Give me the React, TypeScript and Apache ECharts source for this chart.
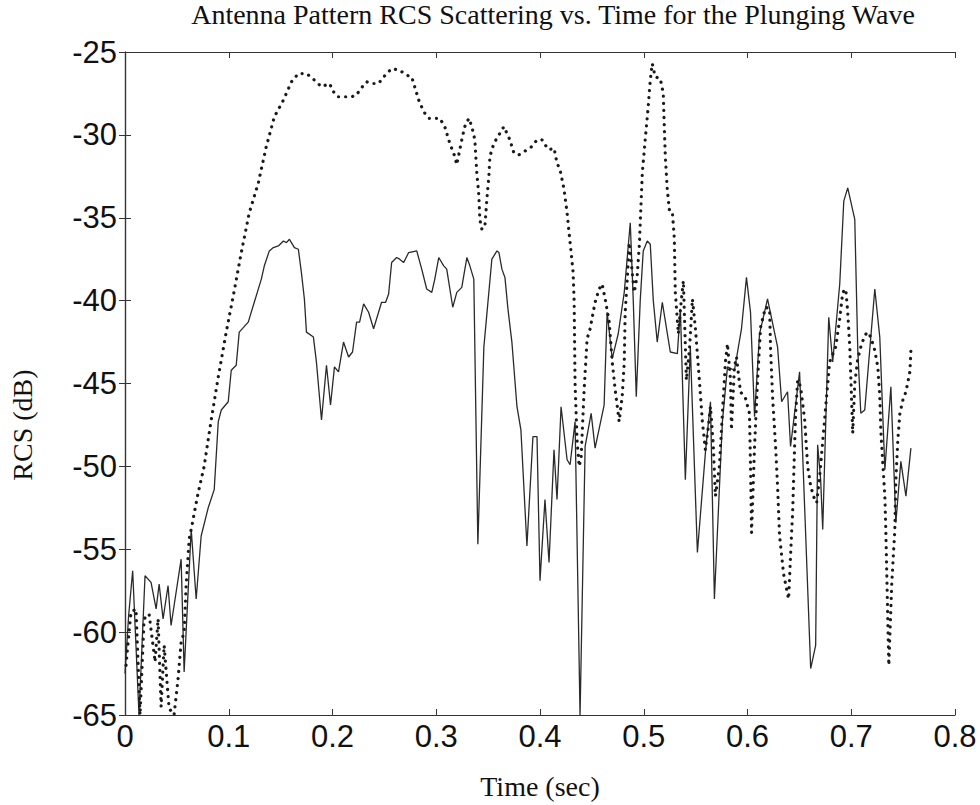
import React, { useEffect, useRef } from "react";
import * as echarts from "echarts";

const titleText = "Antenna Pattern RCS Scattering vs. Time for the Plunging Wave";
const xAxisName = "Time (sec)";
const yAxisName = "RCS (dB)";
const xTicks = [0, 0.1, 0.2, 0.3, 0.4, 0.5, 0.6, 0.7, 0.8];
const yTicks = [-65, -60, -55, -50, -45, -40, -35, -30, -25];

// Solid curve: [time (s), RCS (dB)]
const solidCurve: [number, number][] = [
  [0.0, -62.5], [0.0035, -59], [0.0074, -56.3], [0.0135, -65], [0.0193, -56.6], [0.0251, -57],
  [0.03, -58.6], [0.0329, -57.1], [0.0367, -59.2], [0.0415, -57.2], [0.0444, -59.6], [0.0541, -55.6],
  [0.057, -62.4], [0.0638, -53.8], [0.0686, -58], [0.0734, -54.2], [0.0802, -52.5], [0.086, -51.4],
  [0.0899, -47.3], [0.0928, -46.6], [0.0995, -46.1], [0.1024, -44.2], [0.1072, -43.9], [0.1101, -41.9],
  [0.1188, -41.3], [0.1246, -40.1], [0.1314, -38.7], [0.1343, -37.9], [0.1391, -37.0], [0.143, -36.8],
  [0.1478, -36.7], [0.1527, -36.4], [0.1556, -36.5], [0.1585, -36.3], [0.1633, -36.8], [0.1671, -36.9],
  [0.17, -38.3], [0.1729, -39.9], [0.1749, -41.9], [0.1816, -42.2], [0.1845, -43.7], [0.1894, -47.2],
  [0.1942, -43.9], [0.1981, -46.3], [0.2019, -44.0], [0.2058, -44.3], [0.2106, -42.5], [0.2155, -43.4],
  [0.2193, -43.1], [0.2232, -41.3], [0.2261, -41.3], [0.23, -40.2], [0.2348, -40.7], [0.2396, -41.7],
  [0.2444, -40.7], [0.2473, -40.1], [0.2512, -40.1], [0.2541, -39.6], [0.257, -37.7], [0.2618, -37.4],
  [0.2647, -37.5], [0.2686, -37.7], [0.2734, -37.1], [0.2812, -37.0], [0.286, -38.1], [0.2908, -39.3],
  [0.2957, -39.5], [0.2986, -38.7], [0.3024, -37.4], [0.3072, -37.9], [0.3101, -38.1], [0.3159, -40.4],
  [0.3198, -39.5], [0.3246, -39.2], [0.3295, -37.4], [0.3324, -37.9], [0.3362, -38.7], [0.3401, -54.7],
  [0.3459, -42.8], [0.3488, -40.8], [0.3536, -37.5], [0.3585, -37.0], [0.3604, -37.1], [0.3633, -38.1],
  [0.3662, -38.6], [0.3691, -40.5], [0.3729, -42.5], [0.3778, -46.4], [0.3816, -47.8], [0.3874, -54.8],
  [0.3932, -48.2], [0.3971, -48.2], [0.4, -56.9], [0.4048, -52.0], [0.4087, -55.8], [0.4135, -49.0],
  [0.4164, -52.0], [0.4203, -46.4], [0.4261, -49.6], [0.429, -49.9], [0.4338, -47.3], [0.4386, -65],
  [0.4435, -48.8], [0.4493, -46.8], [0.4531, -48.9], [0.4618, -46.3], [0.4647, -40.7], [0.4696, -43.5],
  [0.4754, -42], [0.4812, -39.5], [0.487, -35.3], [0.4899, -40], [0.4928, -45.8], [0.4966, -40],
  [0.4995, -37.0], [0.5034, -36.4], [0.5063, -36.6], [0.5092, -40], [0.513, -42.5], [0.5179, -40.1],
  [0.5256, -43.1], [0.5324, -43.2], [0.5353, -40.5], [0.5401, -50.8], [0.5449, -42.8], [0.5517, -55.2],
  [0.5594, -49.2], [0.5643, -46.1], [0.5681, -58], [0.5758, -47.3], [0.5807, -44], [0.5874, -44.2],
  [0.5942, -41.7], [0.599, -38.6], [0.6029, -40.7], [0.6068, -47], [0.6116, -42], [0.6193, -39.9],
  [0.629, -42.8], [0.6329, -46.1], [0.6386, -45.5], [0.6415, -48.8], [0.6502, -44.3], [0.6609, -62.2],
  [0.6657, -60.8], [0.6676, -48.7], [0.6705, -50.8], [0.6725, -53.8], [0.6783, -41], [0.6821, -43.7],
  [0.6889, -39], [0.6928, -34], [0.6966, -33.2], [0.7034, -35.1], [0.7063, -43], [0.7092, -46.8],
  [0.713, -46.6], [0.7227, -39.3], [0.7275, -42.2], [0.7324, -50.2], [0.7382, -45.2], [0.743, -53.4],
  [0.7478, -49.7], [0.7527, -51.8], [0.7575, -48.9],
];

// Dotted curve: [time (s), RCS (dB)]
const dottedCurve: [number, number][] = [
  [0.001, -62], [0.0039, -60], [0.0058, -58.8], [0.0106, -58.6], [0.0145, -65], [0.0184, -59.2],
  [0.0232, -58.9], [0.029, -61.8], [0.0319, -59.2], [0.0348, -64.5], [0.0377, -60.8], [0.0425, -64.6],
  [0.0473, -65], [0.0512, -62.8], [0.0541, -60.6], [0.057, -60], [0.0589, -57.2], [0.0618, -54.4],
  [0.0638, -53.8], [0.0705, -51.6], [0.0763, -50], [0.0831, -47.2], [0.0899, -44.6], [0.0976, -41.9],
  [0.1053, -39.4], [0.1121, -37.1], [0.1198, -34.7], [0.1285, -32.9], [0.1362, -30.7], [0.144, -28.9],
  [0.1527, -27.9], [0.1604, -26.8], [0.1671, -26.3], [0.1749, -26.3], [0.1826, -26.7], [0.1894, -27.1],
  [0.1971, -26.9], [0.201, -27.4], [0.2048, -27.7], [0.2106, -27.7], [0.2184, -27.7], [0.2232, -27.6],
  [0.2261, -27.3], [0.2329, -26.8], [0.2377, -26.9], [0.2444, -26.9], [0.2493, -26.5], [0.257, -26.0],
  [0.2647, -26.1], [0.2715, -26.4], [0.2763, -26.5], [0.2802, -27.3], [0.2831, -27.9], [0.2879, -28.6],
  [0.2928, -29.0], [0.2986, -29.0], [0.3034, -29.0], [0.3082, -29.5], [0.313, -30.5], [0.3179, -31.3],
  [0.3198, -31.8], [0.3217, -31.2], [0.3246, -30.3], [0.3275, -29.5], [0.3314, -29.0], [0.3343, -29.5],
  [0.3372, -30.3], [0.3391, -32.3], [0.3411, -33.7], [0.342, -35.1], [0.344, -35.7], [0.3469, -35.5],
  [0.3488, -33.9], [0.3507, -32.5], [0.3517, -31.3], [0.3556, -30.5], [0.3585, -30.2], [0.3614, -29.9],
  [0.3652, -29.5], [0.3681, -29.9], [0.371, -30.3], [0.3749, -31.1], [0.3797, -31.2], [0.3826, -31.1],
  [0.3874, -30.9], [0.3923, -30.7], [0.3971, -30.3], [0.4019, -30.3], [0.4048, -30.6], [0.4087, -30.9],
  [0.4135, -30.8], [0.4164, -31.7], [0.4193, -32.1], [0.4232, -33.3], [0.4261, -34.7], [0.428, -35.9],
  [0.43, -37.1], [0.4319, -38.3], [0.4329, -40], [0.4338, -45], [0.4357, -48.4], [0.4377, -50],
  [0.4396, -49.5], [0.4425, -45.4], [0.4454, -42.3], [0.4483, -41.7], [0.4531, -40.1], [0.457, -39.3],
  [0.4599, -39.0], [0.4628, -39.9], [0.4667, -41.3], [0.4696, -43.7], [0.4725, -45.4], [0.4763, -47.3],
  [0.4792, -45.8], [0.4812, -43.7], [0.4821, -40.7], [0.4841, -38.7], [0.486, -36.5], [0.4889, -38.3],
  [0.4908, -39.5], [0.4937, -38.5], [0.4957, -36.7], [0.4986, -32.3], [0.5014, -30.3], [0.5043, -28.3],
  [0.5063, -26.7], [0.5082, -25.7], [0.5111, -26.5], [0.5159, -26.6], [0.5188, -27.5], [0.5198, -29.5],
  [0.5208, -31.3], [0.5227, -33.3], [0.5246, -34.5], [0.5275, -34.6], [0.5295, -36.3], [0.5304, -39.5],
  [0.5333, -42], [0.5362, -40], [0.5382, -38.8], [0.5411, -44.8], [0.544, -43], [0.5469, -39.9],
  [0.5498, -41.7], [0.5536, -44.8], [0.5565, -47.3], [0.5594, -49], [0.5623, -47.6], [0.5643, -46.4],
  [0.5671, -48.8], [0.5691, -51.8], [0.5729, -50], [0.5758, -46.8], [0.5787, -43.7], [0.5807, -42.6],
  [0.5836, -44.8], [0.5845, -47.8], [0.5874, -44], [0.5894, -43.4], [0.5932, -45.5], [0.5981, -45.9],
  [0.6019, -46.8], [0.6029, -50], [0.6039, -54], [0.6068, -48.8], [0.6097, -44.8], [0.6126, -41.6],
  [0.6174, -40.4], [0.6213, -40.5], [0.6222, -42.8], [0.6242, -45.8], [0.6271, -48.8], [0.629, -51.2],
  [0.6309, -54.2], [0.6348, -56.5], [0.6396, -58], [0.6425, -54], [0.6435, -52.8], [0.6454, -48.8],
  [0.6464, -46.8], [0.6483, -44.8], [0.6512, -45.2], [0.6551, -47.2], [0.658, -50], [0.6609, -51.2],
  [0.6647, -52], [0.6667, -52.2], [0.6696, -50.6], [0.6754, -46.4], [0.6792, -43.7], [0.685, -42.8],
  [0.6889, -41.1], [0.6918, -39.5], [0.6947, -39.3], [0.6966, -40.7], [0.6986, -42.8], [0.7014, -48],
  [0.7034, -45], [0.7063, -43.5], [0.7092, -42.8], [0.713, -42.1], [0.7159, -41.9], [0.7188, -42.2],
  [0.7227, -43], [0.7256, -44], [0.7275, -45.8], [0.7285, -47.8], [0.7304, -49.8], [0.7324, -51.8],
  [0.7333, -53.8], [0.7362, -62], [0.7391, -57], [0.742, -53.8], [0.743, -50.8], [0.7449, -48.4],
  [0.7469, -46.8], [0.7498, -46], [0.7527, -45.5], [0.7565, -44.3], [0.7575, -43],
];

export default function App() {
  const ref = useRef<HTMLDivElement>(null);
  useEffect(() => {
    if (!ref.current) return;
    const chart = echarts.init(ref.current, null, { renderer: "svg" });
    const axisLine = { show: true, lineStyle: { color: "#333", width: 1.2 } };
    const tick = { show: true, inside: true, length: 6, lineStyle: { color: "#333" } };
    const xMin = xTicks[0];
    const xMax = xTicks[xTicks.length - 1];
    const yMin = yTicks[0];
    const yMax = yTicks[yTicks.length - 1];
    chart.setOption({
      animation: false,
      backgroundColor: "#fff",
      title: {
        text: titleText,
        left: 553,
        textAlign: "center",
        top: 0,
        padding: 0,
        textStyle: { fontFamily: "Liberation Serif", fontSize: 28, fontWeight: "normal", color: "#111" },
      },
      graphic: [
        {
          type: "text",
          x: 22,
          y: 425,
          rotation: Math.PI / 2,
          style: {
            text: yAxisName,
            fontFamily: "Liberation Serif",
            fontSize: 28,
            fill: "#111",
            align: "center",
            verticalAlign: "middle",
          },
        },
      ],
      grid: { left: 125, right: 25, top: 52, bottom: 89 },
      xAxis: [
        {
          type: "value",
          min: xMin,
          max: xMax,
          interval: 0.1,
          name: xAxisName,
          nameLocation: "middle",
          nameGap: 57,
          nameTextStyle: { fontFamily: "Liberation Serif", fontSize: 28, color: "#111" },
          axisLine,
          axisTick: tick,
          splitLine: { show: false },
          axisLabel: {
            fontFamily: "Liberation Sans",
            fontSize: 31,
            color: "#111",
            margin: 6,
            formatter: (v: number) => String(Math.round(v * 10) / 10),
          },
        },
        {
          type: "value",
          position: "top",
          min: xMin,
          max: xMax,
          interval: 0.1,
          axisLine,
          axisTick: tick,
          axisLabel: { show: false },
          splitLine: { show: false },
        },
      ],
      yAxis: [
        {
          type: "value",
          min: yMin,
          max: yMax,
          interval: 5,
          axisLine,
          axisTick: tick,
          splitLine: { show: false },
          axisLabel: { fontFamily: "Liberation Sans", fontSize: 31, color: "#111", margin: 8 },
        },
        {
          type: "value",
          position: "right",
          min: yMin,
          max: yMax,
          interval: 5,
          axisLine,
          axisTick: tick,
          axisLabel: { show: false },
          splitLine: { show: false },
        },
      ],
      series: [
        {
          type: "line",
          data: solidCurve,
          showSymbol: false,
          lineStyle: { color: "#2a2a2a", width: 1.3 },
          silent: true,
        },
        {
          type: "line",
          data: dottedCurve,
          showSymbol: false,
          lineStyle: { color: "#1a1a1a", width: 3.2, type: [0.1, 7], cap: "round" },
          silent: true,
        },
      ],
    });
    return () => chart.dispose();
  }, []);
  return (
    <div
      ref={ref}
      style={{ position: "absolute", left: 0, top: 0, width: 980, height: 805 }}
    />
  );
}
